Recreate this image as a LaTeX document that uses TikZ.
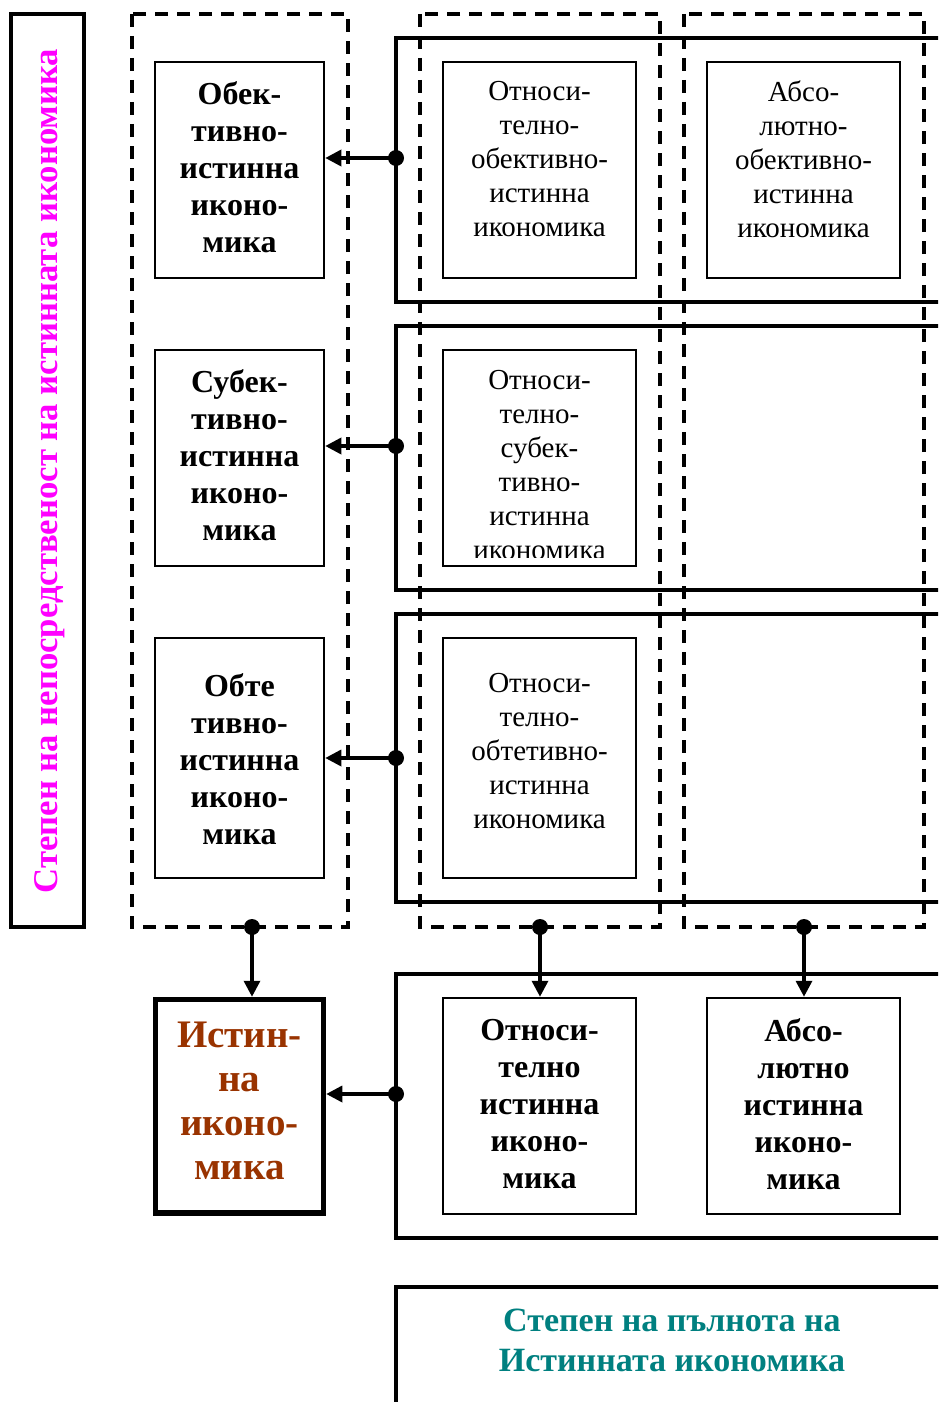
\documentclass[tikz,border=0pt]{standalone}
\usepackage{fontspec}
\setmainfont{Liberation Serif}
\usetikzlibrary{arrows.meta}
\definecolor{brn}{HTML}{993300}
\definecolor{tl}{HTML}{008080}
\definecolor{mg}{HTML}{FF00FF}
\begin{document}
\begin{tikzpicture}[x=1pt,y=-1pt,
  dashbox/.style={draw, line width=3.6pt, dash pattern=on 13pt off 9pt},
  rowbox/.style={draw, line width=3.6pt},
  ibox/.style={draw, line width=2.5pt, minimum width=193pt, minimum height=216pt, inner sep=0pt},
  lbox/.style={draw, line width=2.5pt, minimum width=169pt, inner sep=0pt},
  regtxt/.style={align=center, inner sep=0pt, font=\fontsize{29}{34}\selectfont},
  boldtxt/.style={align=center, inner sep=0pt, font=\fontsize{32}{37}\selectfont\bfseries},
  arr/.style={line width=3.4pt, -{Triangle[length=16pt,width=16pt]}},
]
\useasboundingbox (0,0) rectangle (938,1402);
\clip (0,0) rectangle (938,1402);

% left vertical title box
\draw[line width=3.6pt] (11,14) rectangle (84,927);
\node[rotate=90, anchor=base, text=mg, inner sep=0pt, font=\fontsize{34.7}{40}\selectfont\bfseries] (vt) at (57,471)
  {Степен на непосредственост на истинната икономика};

% row boxes (solid)
\draw[rowbox] (396,38) rectangle (960,302);
\draw[rowbox] (396,326) rectangle (960,590);
\draw[rowbox] (396,614) rectangle (960,902);

% dashed column boxes
\draw[dashbox] (132,14) rectangle (348,927);
\draw[dashbox] (420,14) rectangle (660,927);
\draw[dashbox] (684,14) rectangle (924,927);

% left column boxes
\node[lbox, minimum height=216pt] (o1) at (239.5,170) {};
\node[lbox, minimum height=216pt] (o2) at (239.5,458) {};
\node[lbox, minimum height=240pt] (o3) at (239.5,758) {};
\node[boldtxt] (to1) at (239.5,167) {Обек-\\тивно-\\истинна\\иконо-\\мика};
\node[boldtxt] (to2) at (239.5,455) {Субек-\\тивно-\\истинна\\иконо-\\мика};
\node[boldtxt] (to3) at (239.5,759) {Обте\\тивно-\\истинна\\иконо-\\мика};

% middle column boxes
\node[ibox] (m1) at (539.5,170) {};
\node[ibox] (m2) at (539.5,458) {};
\node[ibox, minimum height=240pt] (m3) at (539.5,758) {};
\node[regtxt] (tm1) at (539.5,159) {Относи-\\телно-\\обективно-\\истинна\\икономика};
\begin{scope}
\clip (443,350) rectangle (636,557);
\node[regtxt] (tm2) at (539.5,465) {Относи-\\телно-\\субек-\\тивно-\\истинна\\икономика};
\end{scope}
\node[regtxt] (tm3) at (539.5,751) {Относи-\\телно-\\обтетивно-\\истинна\\икономика};

% right column box
\node[ibox] (a1) at (803.5,170) {};
\node[regtxt] (ta1) at (803.5,159) {Абсо-\\лютно-\\обективно-\\истинна\\икономика};

% connector dots
\coordinate (d1) at (396,158);
\coordinate (d2) at (396,446);
\coordinate (d3) at (396,758);
\coordinate (e1) at (252,927);
\coordinate (e2) at (540,927);
\coordinate (e3) at (804,927);
\coordinate (d4) at (396,1094);

% bottom area
\draw[rowbox] (396,974) rectangle (960,1238);
\node[draw, line width=5.5pt, minimum width=168pt, minimum height=213.5pt, inner sep=0pt] (ist) at (239.5,1106.25) {};
\node[align=center, inner sep=0pt, text=brn, font=\fontsize{39}{44}\selectfont\bfseries] (tist) at (239.5,1101) {Истин-\\на\\иконо-\\мика};
\node[ibox] (b1) at (539.5,1106) {};
\node[ibox] (b2) at (803.5,1106) {};
\node[boldtxt] (tb1) at (539.5,1104) {Относи-\\телно\\истинна\\иконо-\\мика};
\node[boldtxt] (tb2) at (803.5,1104) {Абсо-\\лютно\\истинна\\иконо-\\мика};

% teal box
\draw[rowbox] (396,1287) rectangle (960,1430);
\node[align=center, inner sep=0pt, text=tl, font=\fontsize{34}{40}\selectfont\bfseries] (tt) at (672,1340) {Степен на пълнота на\\Истинната икономика};

% connectors
\draw[arr] (d1) -- (d1 -| o1.east);
\draw[arr] (d2) -- (d2 -| o2.east);
\draw[arr] (d3) -- (d3 -| o3.east);
\draw[arr] (d4) -- (d4 -| ist.east);
\draw[arr] (e1) -- (e1 |- ist.north);
\draw[arr] (e2) -- (e2 |- b1.north);
\draw[arr] (e3) -- (e3 |- b2.north);
\foreach \p in {d1,d2,d3,d4,e1,e2,e3} \fill (\p) circle (8pt);
\end{tikzpicture}
\end{document}
